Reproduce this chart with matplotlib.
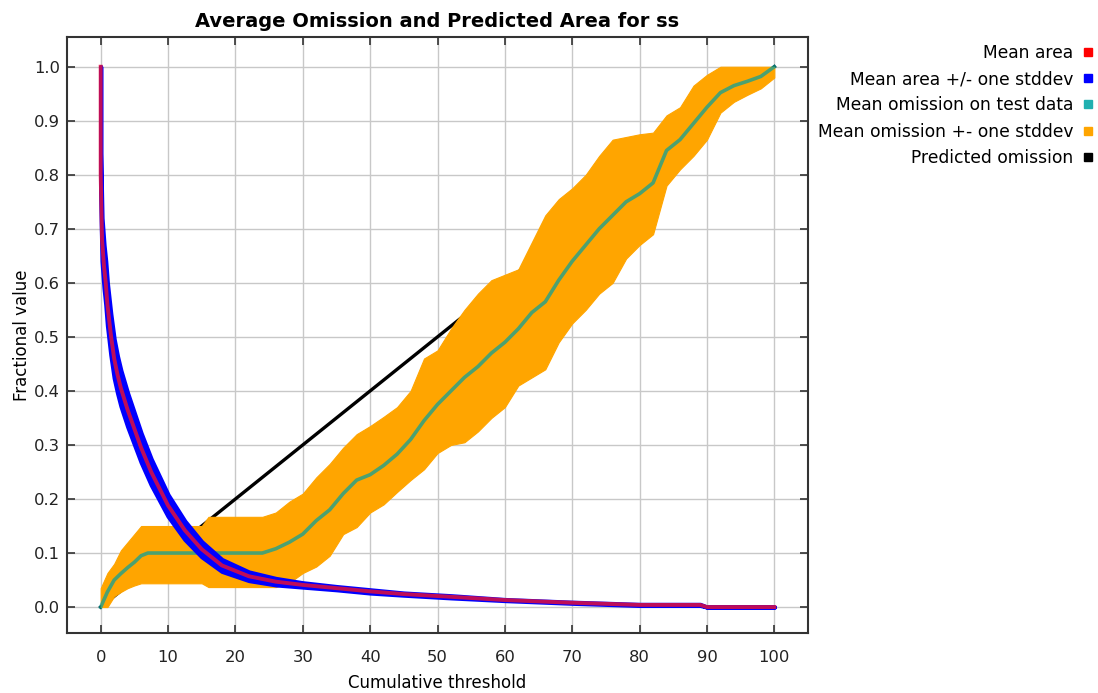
import matplotlib
matplotlib.use("Agg")
import matplotlib.pyplot as plt
from matplotlib.lines import Line2D
import numpy as np

# ---------------- data ----------------
# Mean predicted area (fraction) vs cumulative threshold
area_x = [0, 0, 0.2, 0.5, 0.75, 1, 1.5, 2, 2.5, 3, 4, 5, 6, 7.5, 10, 12.5, 15,
          18, 22, 26, 30, 35, 40, 45, 52, 60, 70, 80, 89, 90, 100]
area_mean = [1.0, 0.80, 0.68, 0.63, 0.60, 0.56, 0.505, 0.46, 0.43, 0.405, 0.365,
             0.33, 0.295, 0.25, 0.188, 0.142, 0.107, 0.077, 0.057, 0.047, 0.041,
             0.035, 0.029, 0.024, 0.019, 0.013, 0.008, 0.004, 0.004, 0.0, 0.0]
area_sd = [0.0, 0.04, 0.04, 0.04, 0.04, 0.039, 0.038, 0.036, 0.034, 0.033,
           0.031, 0.029, 0.027, 0.024, 0.02, 0.017, 0.014, 0.011, 0.008, 0.006,
           0.004, 0.003, 0.003, 0.002, 0.002, 0.001, 0.001, 0.001, 0.001, 0.0, 0.0]

# Omission on test data vs cumulative threshold
om_x = [0, 1, 2, 3, 4, 5, 6, 7, 8, 10, 12, 14, 15, 16, 18, 20, 22, 24, 26, 28,
        30, 32, 34, 36, 38, 40, 42, 44, 46, 48, 50, 52, 54, 56, 58, 60, 62, 64,
        66, 68, 70, 72, 74, 76, 78, 80, 82, 84, 86, 88, 90, 92, 94, 96, 98, 100]
om_mean = [0.0, 0.028, 0.05, 0.062, 0.073, 0.083, 0.095, 0.1, 0.1, 0.1, 0.1,
           0.1, 0.1, 0.1, 0.1, 0.1, 0.1, 0.1, 0.108, 0.12, 0.135, 0.16, 0.18,
           0.21, 0.235, 0.245, 0.262, 0.283, 0.31, 0.345, 0.375, 0.40, 0.425,
           0.445, 0.47, 0.49, 0.515, 0.545, 0.565, 0.605, 0.64, 0.67, 0.70,
           0.725, 0.75, 0.765, 0.785, 0.845, 0.865, 0.895, 0.925, 0.952, 0.965,
           0.973, 0.982, 1.0]
om_hi = [0.035, 0.063, 0.08, 0.105, 0.12, 0.135, 0.15, 0.15, 0.15, 0.15, 0.15,
         0.15, 0.15, 0.167, 0.167, 0.167, 0.167, 0.167, 0.175, 0.195, 0.21,
         0.24, 0.265, 0.295, 0.32, 0.335, 0.352, 0.37, 0.40, 0.46, 0.475,
         0.515, 0.55, 0.58, 0.605, 0.615, 0.625, 0.675, 0.725, 0.755, 0.775,
         0.80, 0.835, 0.865, 0.87, 0.875, 0.878, 0.91, 0.925, 0.965, 0.985,
         1.0, 1.0, 1.0, 1.0, 1.0]
om_lo = [0.0, 0.0, 0.02, 0.028, 0.035, 0.04, 0.044, 0.044, 0.044, 0.044, 0.044,
         0.044, 0.044, 0.037, 0.037, 0.037, 0.037, 0.037, 0.037, 0.045, 0.063,
         0.075, 0.095, 0.135, 0.148, 0.175, 0.19, 0.213, 0.235, 0.255, 0.285,
         0.30, 0.305, 0.325, 0.35, 0.37, 0.41, 0.425, 0.44, 0.49, 0.525, 0.55,
         0.58, 0.60, 0.645, 0.67, 0.69, 0.78, 0.81, 0.835, 0.865, 0.915, 0.935,
         0.948, 0.96, 0.98]

# Predicted omission
pred_x = [0, 100]
pred_y = [0.0, 1.0]

legend_labels = ["Mean area", "Mean area +/- one stddev",
                 "Mean omission on test data", "Mean omission +- one stddev",
                 "Predicted omission"]
legend_colors = ["#FF0000", "#0000FF", "#20B0B0", "#FFA500", "#000000"]

x_ticks = list(range(0, 101, 10))
y_ticks = [round(0.1 * i, 1) for i in range(11)]

# ---------------- plot ----------------
plt.rcParams['font.family'] = ['DejaVu Sans']
fig = plt.figure(figsize=(10.98, 6.93), dpi=100)
ax = fig.add_axes([67 / 1098, 60 / 693, (808 - 67) / 1098, (633 - 37) / 693])

am = np.array(area_mean)
asd = np.array(area_sd)

ax.plot(pred_x, pred_y, color="black", lw=2.4, zorder=2)
ax.fill_between(om_x, om_lo, om_hi, color="#FFA500", lw=0.8,
                edgecolor="#FFA500", zorder=3)
ax.plot(om_x, om_mean, color="#00A0A0", alpha=0.7, lw=2.6, zorder=4)
ax.fill_between(area_x, am - asd, am + asd, color="#0000FF", lw=3,
                edgecolor="#0000FF", zorder=5)
ax.plot(area_x, area_mean, color="#E0103C", alpha=0.85, lw=2.8, zorder=6)

ax.set_xlim(-5, 105)
ax.set_ylim(-0.048, 1.055)
ax.set_xticks(x_ticks)
ax.set_yticks(y_ticks)
ax.set_yticklabels([f"{v:.1f}" for v in y_ticks])
ax.grid(True, color="#C8C8C8", lw=1.0, zorder=0)
ax.set_axisbelow(True)
ax.tick_params(direction="in", length=6, width=1.2, top=True, right=True,
               labelsize=11.8, colors="#333333", labelcolor="#222222")
ax.tick_params(axis="x", pad=12)
ax.tick_params(axis="y", pad=5)
for s in ax.spines.values():
    s.set_linewidth(1.5)
    s.set_color("#333333")

ax.set_title("Average Omission and Predicted Area for ss", fontsize=14,
             fontweight="bold", pad=7)
ax.set_xlabel("Cumulative threshold", fontsize=12, labelpad=7)
ax.set_ylabel("Fractional value", fontsize=12, labelpad=2)

handles = [Line2D([], [], marker="s", linestyle="none", markersize=5.5,
                  markerfacecolor=c, markeredgecolor=c) for c in legend_colors]
fig.legend(handles, legend_labels, loc="upper right",
           bbox_to_anchor=(1094 / 1098, 1 - 44 / 693), frameon=False,
           markerfirst=False, fontsize=12.3, handlelength=0.7,
           handletextpad=0.5, labelspacing=0.48, borderaxespad=0, borderpad=0)

fig.savefig("out.png", dpi=100)
